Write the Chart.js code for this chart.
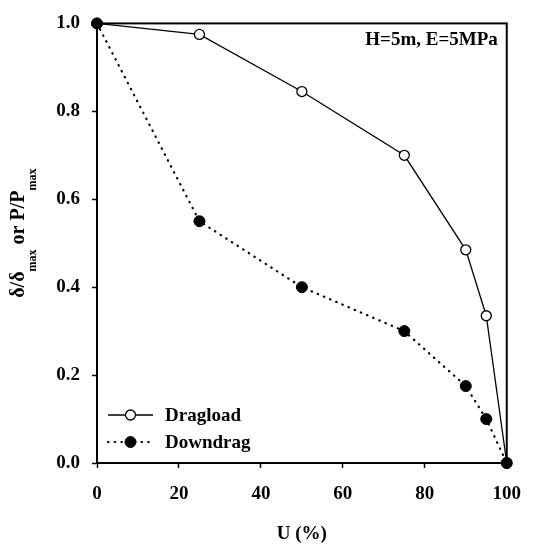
<!DOCTYPE html>
<html>
<head>
<meta charset="utf-8">
<script src="https://cdn.jsdelivr.net/npm/chart.js@4"></script>
<style>
  html, body { margin: 0; padding: 0; background: #fff; }
  #wrap { width: 536px; height: 545px; }
</style>
</head>
<body>
<div id="wrap"><canvas id="grafic"></canvas></div>
<script>
// consolidation degree U (%)
const grauU = [0, 25, 50, 75, 90, 95, 100];
// normalised dragload P/Pmax
const dragload = [1.0, 0.975, 0.845, 0.70, 0.485, 0.335, 0.0];
// normalised downdrag δ/δmax
const downdrag = [1.0, 0.55, 0.40, 0.30, 0.175, 0.10, 0.0];
const ticksX = [0, 20, 40, 60, 80, 100];
const ticksY = [0, 0.2, 0.4, 0.6, 0.8, 1.0];
const etiquetes = ['Dragload', 'Downdrag'];
const textCas = 'H=5m, E=5MPa';

const SERIF = '"Liberation Serif", "Times New Roman", serif';
const punts = (ys) => grauU.map((x, i) => ({ x: x, y: ys[i] }));

// marc, títol de l'eix Y, anotació i llegenda
const extres = {
    id: 'extres',
    afterDraw(chart) {
        const ctx = chart.ctx;
        const a = chart.chartArea;
        ctx.save();
        ctx.strokeStyle = '#000';
        ctx.lineWidth = 2;
        ctx.strokeRect(a.left, a.top, a.right - a.left, a.bottom - a.top);

        // títol vertical amb subíndexs
        const gran = 'bold 20px ' + SERIF;
        const petit = 'bold 12px ' + SERIF;
        const parts = [['δ/δ', gran, 0], ['max', petit, 12], [' or P/P', gran, 0], ['max', petit, 12]];
        let total = 0;
        parts.forEach(p => { ctx.font = p[1]; total += ctx.measureText(p[0]).width; });
        ctx.save();
        ctx.translate(24, (a.top + a.bottom) / 2 - 10);
        ctx.rotate(-Math.PI / 2);
        ctx.fillStyle = '#000';
        ctx.textBaseline = 'alphabetic';
        let x = -total / 2;
        parts.forEach(p => {
            ctx.font = p[1];
            ctx.fillText(p[0], x, p[2]);
            x += ctx.measureText(p[0]).width;
        });
        ctx.restore();

        ctx.font = 'bold 19px ' + SERIF;
        ctx.fillStyle = '#000';
        ctx.textAlign = 'right';
        ctx.textBaseline = 'middle';
        ctx.fillText(textCas, a.right - 9, a.top + 17);

        // llegenda
        const files = [415, 442];
        chart.data.datasets.forEach((ds, i) => {
            const y = files[i];
            ctx.save();
            ctx.strokeStyle = '#000';
            ctx.lineWidth = ds.borderWidth;
            ctx.lineCap = ds.borderCapStyle || 'butt';
            ctx.setLineDash(ds.borderDash || []);
            ctx.beginPath();
            ctx.moveTo(108, y);
            ctx.lineTo(153, y);
            ctx.stroke();
            ctx.setLineDash([]);
            ctx.beginPath();
            ctx.arc(130.5, y, ds.pointRadius, 0, Math.PI * 2);
            ctx.fillStyle = ds.pointBackgroundColor;
            ctx.fill();
            ctx.lineWidth = ds.pointBorderWidth;
            ctx.stroke();
            ctx.restore();
            ctx.font = 'bold 19px ' + SERIF;
            ctx.fillStyle = '#000';
            ctx.textAlign = 'left';
            ctx.textBaseline = 'middle';
            ctx.fillText(ds.label, 165, y + 1);
        });
        ctx.restore();
    }
};

new Chart(document.getElementById('grafic'), {
    type: 'scatter',
    data: {
        datasets: [{
            label: etiquetes[0],
            data: punts(dragload),
            showLine: true,
            order: 1,
            borderColor: '#000',
            borderWidth: 1.3,
            tension: 0,
            pointRadius: 5,
            pointBorderWidth: 1.3,
            pointBackgroundColor: '#fff',
            pointBorderColor: '#000'
        }, {
            label: etiquetes[1],
            data: punts(downdrag),
            showLine: true,
            order: 0,
            borderColor: '#000',
            borderWidth: 2.2,
            borderDash: [0.5, 6.2],
            borderCapStyle: 'round',
            tension: 0,
            pointRadius: 5.5,
            pointBorderWidth: 1,
            pointBackgroundColor: '#000',
            pointBorderColor: '#000'
        }]
    },
    options: {
        responsive: true,
        maintainAspectRatio: false,
        animation: false,
        clip: false,
        layout: { padding: { left: 0, top: 17, right: 17, bottom: 0 } },
        plugins: {
            legend: { display: false },
            tooltip: { enabled: false }
        },
        scales: {
            x: {
                type: 'linear',
                min: 0,
                max: 100,
                afterBuildTicks: s => { s.ticks = ticksX.map(v => ({ value: v })); },
                afterFit: s => { s.height = 82; },
                grid: { display: true, drawOnChartArea: false, tickLength: 5, tickColor: '#000', tickWidth: 1.5 },
                border: { display: true, color: '#000', width: 2 },
                ticks: { color: '#000', padding: 15, font: { family: SERIF, size: 19, weight: 'bold' } },
                title: {
                    display: true,
                    text: 'U (%)',
                    color: '#000',
                    padding: { top: 0, bottom: 0 },
                    font: { family: SERIF, size: 19, weight: 'bold' }
                }
            },
            y: {
                type: 'linear',
                min: 0,
                max: 1,
                afterBuildTicks: s => { s.ticks = ticksY.map(v => ({ value: v })); },
                afterFit: s => { s.width = 97; },
                grid: { display: true, drawOnChartArea: false, tickLength: 5, tickColor: '#000', tickWidth: 1.5 },
                border: { display: true, color: '#000', width: 2 },
                ticks: {
                    color: '#000',
                    padding: 12,
                    font: { family: SERIF, size: 19, weight: 'bold' },
                    callback: v => v.toFixed(1)
                }
            }
        }
    },
    plugins: [extres]
});
</script>
</body>
</html>
